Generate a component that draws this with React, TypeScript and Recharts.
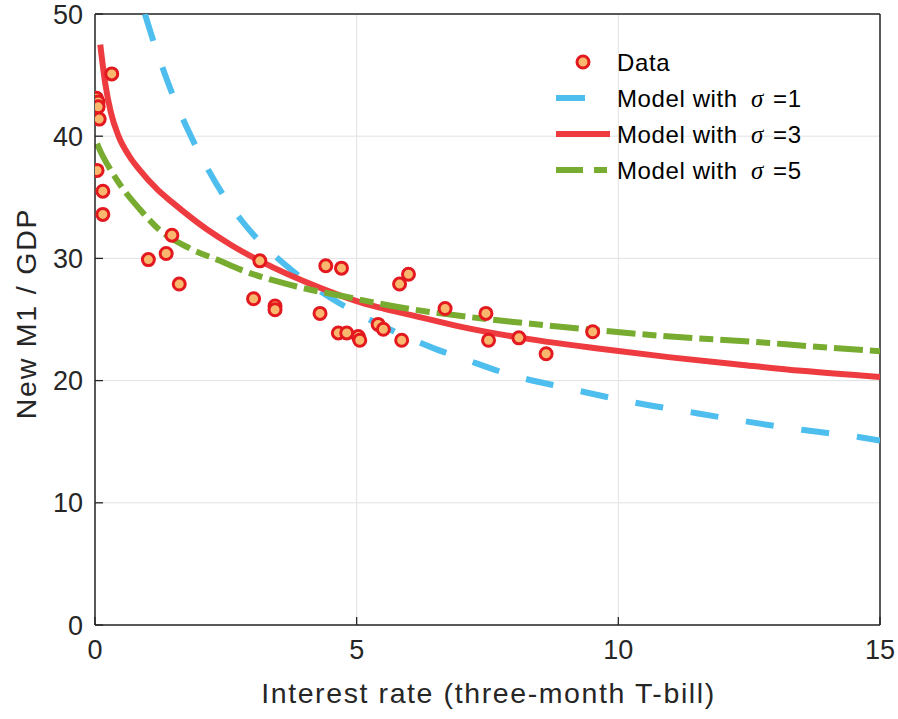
import React from 'react';
import {
  ComposedChart,
  Line,
  Scatter,
  XAxis,
  YAxis,
  CartesianGrid,
  ReferenceLine,
} from 'recharts';

// ---- data ----
const dataX = [0.03, 0.06, 0.06, 0.08, 0.32, 0.04, 0.15, 0.15, 1.47, 1.36, 1.02, 1.61, 3.15, 3.03, 3.44, 3.44, 4.41, 4.71, 4.3, 4.65, 4.81, 5.03, 5.06, 5.99, 5.82, 5.41, 5.51, 5.86, 6.69, 7.47, 7.52, 8.1, 8.62, 9.51];
const dataY = [43.1, 42.8, 42.4, 41.4, 45.1, 37.2, 35.5, 33.6, 31.9, 30.4, 29.9, 27.9, 29.8, 26.7, 26.1, 25.8, 29.4, 29.2, 25.5, 23.9, 23.9, 23.6, 23.3, 28.7, 27.9, 24.6, 24.2, 23.3, 25.9, 25.5, 23.3, 23.5, 22.2, 24.0];

const sigma1X = [0.955, 1.13, 1.3, 1.465, 1.66, 1.89, 2.17, 2.48, 2.8, 3.19, 3.6, 4.01, 4.49, 4.93, 5.68, 6.5, 6.97, 8.0, 9.0, 10.19, 11.27, 12.38, 13.46, 14.56, 15.0];
const sigma1Y = [50.0, 47.6, 45.5, 43.6, 41.6, 39.5, 37.2, 35.0, 33.1, 31.2, 29.6, 28.2, 26.8, 25.7, 24.1, 22.6, 21.9, 20.4, 19.4, 18.3, 17.5, 16.7, 16.0, 15.4, 15.1];

const sigma3X = [0.1, 0.2, 0.3, 0.45, 0.65, 0.86, 1.2, 1.5, 2.13, 2.6, 3.15, 4.3, 5.0, 6.2, 7.0, 8.0, 9.65, 11.0, 12.33, 13.5, 15.0];
const sigma3Y = [47.5, 44.2, 42.0, 40.0, 38.4, 37.2, 35.6, 34.5, 32.4, 31.1, 29.8, 27.6, 26.5, 25.2, 24.4, 23.6, 22.6, 21.9, 21.3, 20.8, 20.3];

const sigma5X = [0.04, 0.1, 0.29, 0.5, 0.86, 1.24, 1.82, 2.39, 2.77, 3.85, 4.75, 5.96, 6.97, 8.0, 9.65, 11.0, 12.5, 13.7, 15.0];
const sigma5Y = [39.4, 38.8, 37.3, 35.9, 34.0, 32.3, 30.8, 29.8, 29.1, 27.7, 26.9, 25.9, 25.3, 24.8, 24.1, 23.6, 23.2, 22.8, 22.4];

const xTicks = [0, 5, 10, 15];
const yTicks = [0, 10, 20, 30, 40, 50];

const xLabel = 'Interest rate (three-month T-bill)';
const yLabel = 'New M1 / GDP';
const legendLabels = ['Data', 'Model with ', 'Model with ', 'Model with '];
const sigmaValues = ['1', '3', '5'];

const zip = (xs: number[], ys: number[]) => xs.map((x, i) => ({ x, y: ys[i] }));
const scatterData = zip(dataX, dataY);
const line1 = zip(sigma1X, sigma1Y);
const line3 = zip(sigma3X, sigma3Y);
const line5 = zip(sigma5X, sigma5Y);

const BLUE = '#4DBEEE';
const RED = '#EE3B3F';
const GREEN = '#77AC30';
const MK_FILL = '#F9B86E';
const MK_EDGE = '#E3191F';
const TXT = '#262626';
const FONT = '"Liberation Sans", Arial, Helvetica, sans-serif';

const XTick = (props: any) => {
  const { x, y, payload } = props;
  return (
    <g>
      <line x1={x} y1={y} x2={x} y2={y - 8} stroke={TXT} strokeWidth={1.3} />
      <text x={x} y={y + 34} textAnchor="middle" fontSize={27} fontFamily={FONT} fill={TXT}>
        {payload.value}
      </text>
    </g>
  );
};

const YTick = (props: any) => {
  const { x, y, payload } = props;
  return (
    <g>
      <line x1={x} y1={y} x2={x + 8} y2={y} stroke={TXT} strokeWidth={1.3} />
      <text x={x - 12} y={y + 9.5} textAnchor="end" fontSize={27} fontFamily={FONT} fill={TXT}>
        {payload.value}
      </text>
    </g>
  );
};

const Marker = (props: any) => {
  const { cx, cy } = props;
  if (cx == null || cy == null) return null;
  return <circle cx={cx} cy={cy} r={6} fill={MK_FILL} stroke={MK_EDGE} strokeWidth={3} />;
};

const Legend = () => {
  const rows = [62, 98, 134, 170];
  const textX = 617;
  return (
    <svg width={898} height={719} style={{ position: 'absolute', left: 0, top: 0, pointerEvents: 'none' }}>
      <circle cx={583} cy={rows[0]} r={6} fill={MK_FILL} stroke={MK_EDGE} strokeWidth={3} />
      <line x1={556} y1={rows[1]} x2={585} y2={rows[1]} stroke={BLUE} strokeWidth={6} />
      <line x1={556} y1={rows[2]} x2={610} y2={rows[2]} stroke={RED} strokeWidth={6} />
      <line x1={556} y1={rows[3]} x2={583} y2={rows[3]} stroke={GREEN} strokeWidth={6} />
      <line x1={594} y1={rows[3]} x2={607} y2={rows[3]} stroke={GREEN} strokeWidth={6} />
      {legendLabels.map((lab, i) => (
        <text
          key={i}
          x={textX}
          y={rows[i] + 8.5}
          fontSize={24}
          fontFamily={FONT}
          fill="#000"
          letterSpacing={0.6}
        >
          {lab}
          {i > 0 && (
            <tspan x={751} fontFamily='"Liberation Serif", "DejaVu Serif", serif' fontStyle="italic" fontSize={25}>
              σ
            </tspan>
          )}
          {i > 0 && <tspan x={773}>={sigmaValues[i - 1]}</tspan>}
        </text>
      ))}
    </svg>
  );
};

export default function App() {
  return (
    <div style={{ position: 'absolute', left: 0, top: 0, width: 898, height: 719, background: '#fff' }}>
      <ComposedChart
        width={898}
        height={719}
        margin={{ top: 14, right: 18, bottom: 0, left: 0 }}
        style={{ fontFamily: FONT }}
      >
        <CartesianGrid stroke="#e2e2e2" strokeWidth={1} />
        <XAxis
          type="number"
          dataKey="x"
          domain={[0, 15]}
          ticks={xTicks}
          interval={0}
          height={94}
          tickSize={0}
          tickMargin={0}
          tickLine={false}
          axisLine={{ stroke: TXT, strokeWidth: 1.5 }}
          tick={<XTick />}
          allowDataOverflow
          label={{
            content: (p: any) => {
              const vb = p.viewBox || {};
              return (
                <text
                  x={vb.x + vb.width / 2 + 1}
                  y={vb.y + 78}
                  textAnchor="middle"
                  fontSize={28.5}
                  letterSpacing={1.6}
                  fontFamily={FONT}
                  fill={TXT}
                >
                  {xLabel}
                </text>
              );
            },
          }}
        />
        <YAxis
          type="number"
          domain={[0, 50]}
          ticks={yTicks}
          interval={0}
          width={95}
          tickSize={0}
          tickMargin={0}
          tickLine={false}
          axisLine={{ stroke: TXT, strokeWidth: 1.5 }}
          tick={<YTick />}
          allowDataOverflow
          label={{
            content: (p: any) => {
              const vb = p.viewBox || {};
              const cx = 36;
              const cy = vb.y + vb.height / 2 - 6;
              return (
                <text
                  x={cx}
                  y={cy}
                  transform={`rotate(-90 ${cx} ${cy})`}
                  textAnchor="middle"
                  fontSize={28.5}
                  letterSpacing={1.8}
                  fontFamily={FONT}
                  fill={TXT}
                >
                  {yLabel}
                </text>
              );
            },
          }}
        />
        <ReferenceLine y={50} stroke={TXT} strokeWidth={1.5} />
        <ReferenceLine x={15} stroke={TXT} strokeWidth={1.5} />
        <Line
          data={line1}
          dataKey="y"
          type="monotone"
          stroke={BLUE}
          strokeWidth={6}
          strokeDasharray="28 28"
          dot={false}
          activeDot={false}
          isAnimationActive={false}
        />
        <Line
          data={line3}
          dataKey="y"
          type="monotone"
          stroke={RED}
          strokeWidth={6}
          dot={false}
          activeDot={false}
          isAnimationActive={false}
        />
        <Line
          data={line5}
          dataKey="y"
          type="monotone"
          stroke={GREEN}
          strokeWidth={6}
          strokeDasharray="29 7 14 7"
          dot={false}
          activeDot={false}
          isAnimationActive={false}
        />
        <Scatter data={scatterData} dataKey="y" shape={<Marker />} isAnimationActive={false} />
      </ComposedChart>
      <Legend />
    </div>
  );
}
